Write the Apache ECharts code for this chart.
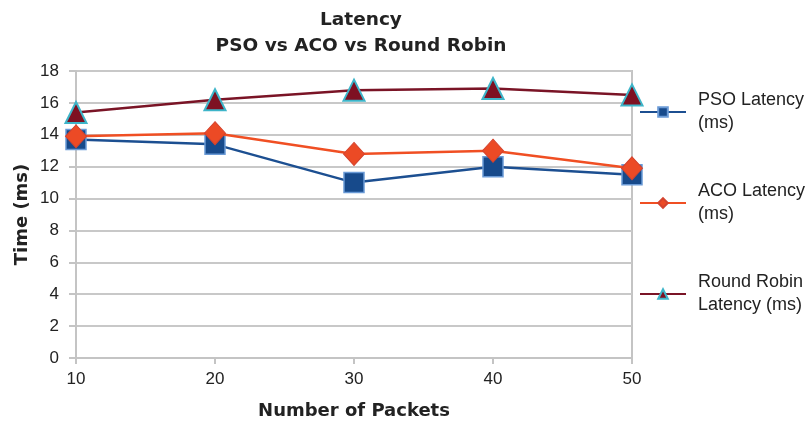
<!DOCTYPE html>
<html>
<head>
<meta charset="utf-8">
<script src="https://cdn.jsdelivr.net/npm/echarts@6/dist/echarts.min.js"></script>
<style>html,body{margin:0;padding:0;background:#fff}#c{width:807px;height:425px}</style>
</head>
<body>
<div id="c"></div>
<script>
var packets = [10, 20, 30, 40, 50];
var psoLatency = [13.7, 13.4, 11.0, 12.0, 11.5];
var acoLatency = [13.9, 14.1, 12.8, 13.0, 11.9];
var rrLatency = [15.4, 16.2, 16.8, 16.9, 16.5];
var seriesNames = ['PSO Latency\n(ms)', 'ACO Latency\n(ms)', 'Round Robin\nLatency (ms)'];

function pairs(vals) { return packets.map(function (p, i) { return [p, vals[i]]; }); }

var FONT = '"Liberation Sans", Arial, Helvetica, sans-serif';
var BOLD = '"DejaVu Sans", "Liberation Sans", sans-serif';
var chart = echarts.init(document.getElementById('c'));
chart.setOption({
  animation: false,
  textStyle: { fontFamily: FONT },
  title: {
    text: 'Latency\nPSO vs ACO vs Round Robin',
    left: 356, top: 2, textAlign: 'center',
    textStyle: { fontSize: 18.5, fontWeight: 'bold', color: '#222', lineHeight: 26, fontFamily: BOLD }
  },
  grid: { left: 76, right: 175, top: 71, bottom: 65, show: true, borderColor: '#c4c4c4', borderWidth: 2 },
  legend: {
    orient: 'vertical', left: 634, top: 84, itemWidth: 46, itemHeight: 12, itemGap: 45,
    textStyle: { fontSize: 18, color: '#222', lineHeight: 23, fontFamily: FONT, padding: [0, 0, 0, 7] },
    data: seriesNames
  },
  xAxis: {
    type: 'value', min: 10, max: 50, interval: 10,
    name: 'Number of Packets', nameLocation: 'middle', nameGap: 44,
    nameTextStyle: { fontSize: 18, fontWeight: 'bold', color: '#222', fontFamily: BOLD },
    axisLine: { lineStyle: { color: '#c4c4c4', width: 2 } },
    axisTick: { show: true, length: 6, lineStyle: { color: '#c4c4c4', width: 2 } },
    axisLabel: { fontSize: 17, color: '#222', margin: 13 },
    splitLine: { show: false }
  },
  yAxis: {
    type: 'value', min: 0, max: 18, interval: 2,
    name: 'Time (ms)', nameLocation: 'middle', nameGap: 45, nameRotate: 90, nameMoveOverlap: false,
    nameTextStyle: { fontSize: 18, fontWeight: 'bold', color: '#222', fontFamily: BOLD },
    axisLine: { show: true, lineStyle: { color: '#c4c4c4', width: 2 } },
    axisTick: { show: true, length: 7, lineStyle: { color: '#c4c4c4', width: 2 } },
    axisLabel: { fontSize: 17, color: '#222', margin: 17 },
    splitLine: { lineStyle: { color: '#c8c8c8', width: 2 } }
  },
  series: [
    {
      name: seriesNames[0], type: 'line', data: pairs(psoLatency),
      symbol: 'rect', symbolSize: 20,
      lineStyle: { color: '#1c4f91', width: 2.5 },
      itemStyle: { color: '#174a8b', borderColor: '#6a9ad6', borderWidth: 1.5 },
      z: 2
    },
    {
      name: seriesNames[1], type: 'line', data: pairs(acoLatency),
      symbol: 'diamond', symbolSize: [21, 23],
      lineStyle: { color: '#f04f23', width: 2.5 },
      itemStyle: { color: '#ec4a25', borderColor: '#d4432e', borderWidth: 1 },
      z: 3
    },
    {
      name: seriesNames[2], type: 'line', data: pairs(rrLatency),
      symbol: 'triangle', symbolSize: 21,
      lineStyle: { color: '#7a1426', width: 2.5 },
      itemStyle: { color: '#7e1122', borderColor: '#3db5c9', borderWidth: 2 },
      z: 4
    }
  ]
});
</script>
</body>
</html>
